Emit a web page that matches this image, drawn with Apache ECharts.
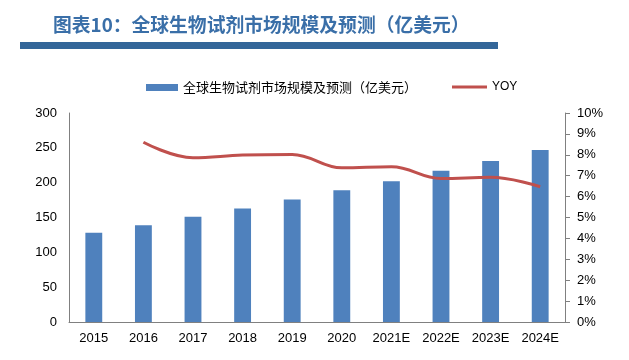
<!DOCTYPE html>
<html><head><meta charset="utf-8">
<script src="https://cdn.jsdelivr.net/npm/echarts@6/dist/echarts.min.js"></script>
<style>html,body{margin:0;padding:0;background:#fff}#c{width:629px;height:360px}</style>
</head><body><div id="c"></div>
<script>
const titleText = '图表10：全球生物试剂市场规模及预测（亿美元）';
const categories = ['2015','2016','2017','2018','2019','2020','2021E','2022E','2023E','2024E'];
const marketSize = [128, 139, 151, 163, 176, 189, 202, 217, 231, 247];
const yoy = [null, 8.6, 7.86, 7.99, 8.02, 7.38, 7.43, 6.87, 6.92, 6.47];
const barName = '全球生物试剂市场规模及预测（亿美元）';
const lineName = 'YOY';

const chart = echarts.init(document.getElementById('c'));
const axisFont = {fontFamily:'Liberation Sans, Arial, sans-serif', fontSize:13, color:'#000'};
chart.setOption({
  animation:false,
  title:{text:titleText,left:48,top:10,textStyle:{fontFamily:'Noto Sans CJK SC',fontWeight:'bold',fontSize:18.8,color:'#3a6fa8'}},
  graphic:[{type:'rect',shape:{x:20,y:42,width:478,height:7},style:{fill:'#336699'}}],
  legend:[
    {data:[barName],left:141,top:76,itemWidth:32,itemHeight:7,icon:'rect',itemGap:5,
     textStyle:{fontFamily:'Noto Sans CJK SC',fontSize:13,color:'#000'}},
    {data:[lineName],left:447,top:76,itemWidth:35,itemHeight:3,icon:'rect',itemGap:3,
     textStyle:{fontFamily:'Liberation Sans',fontSize:12,color:'#000'}}
  ],
  grid:{left:69,right:64,top:113,bottom:38},
  xAxis:{type:'category',data:categories,axisTick:{show:false},
    axisLine:{lineStyle:{color:'#808080'}},axisLabel:Object.assign({margin:10},axisFont)},
  yAxis:[
    {type:'value',min:0,max:300,interval:50,splitLine:{show:false},
     axisLine:{show:true,lineStyle:{color:'#808080'}},axisTick:{show:false},
     axisLabel:Object.assign({margin:12},axisFont)},
    {type:'value',min:0,max:10,interval:1,splitLine:{show:false},position:'right',
     axisLine:{show:true,lineStyle:{color:'#808080'}},axisTick:{show:true,length:5,lineStyle:{color:'#808080'}},
     axisLabel:Object.assign({margin:12,formatter:'{value}%'},axisFont)}
  ],
  series:[
    {name:barName,type:'bar',data:marketSize,barWidth:'34%',itemStyle:{color:'#4f81bd'}},
    {name:lineName,type:'line',yAxisIndex:1,data:yoy,smooth:0.4,showSymbol:false,symbol:'none',
     lineStyle:{color:'#c0504d',width:3},itemStyle:{color:'#c0504d'}}
  ]
});
</script></body></html>
